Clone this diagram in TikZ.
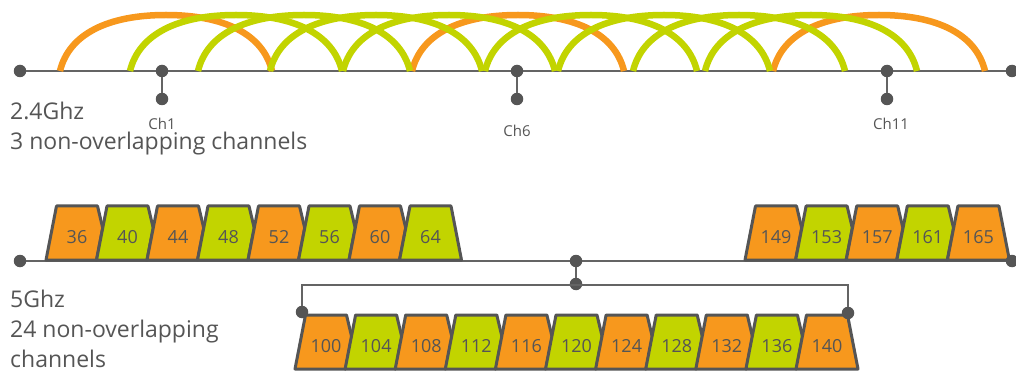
\documentclass[tikz,border=0pt]{standalone}
\usepackage{fontspec}
\setmainfont{Open Sans}
\definecolor{org}{RGB}{247,152,29}
\definecolor{grn}{RGB}{194,212,0}
\definecolor{axisc}{RGB}{100,100,100}
\definecolor{ink}{RGB}{85,85,85}
\newcommand\blk[5]{%
  \ifnum#5=0
    \filldraw[chblock,fill=#3] (#1,#2) -- ({#1+10.5},{#2-54}) -- ({#1+51.5},{#2-54}) -- ({#1+56.7},{#2-32}) -- ({#1+50.5},#2) -- cycle;
  \else
    \filldraw[chblock,fill=#3] (#1,#2) -- ({#1+10.5},{#2-54}) -- ({#1+51.5},{#2-54}) -- ({#1+62},#2) -- cycle;
  \fi
  \node[num] (c#4) at ({#1+31},{#2-23}) {#4};}
\newcommand\wave[2]{%
  \draw[waveline,#2] (#1,71) .. controls ({#1+9},34) and ({#1+48},15) .. ({#1+106},15) .. controls ({#1+164},15) and ({#1+203},34) .. ({#1+212},71);}
\begin{document}
\begin{tikzpicture}[x=1pt,y=-1pt,
  axisline/.style={draw=axisc,line width=2.2pt},
  thinline/.style={draw=axisc,line width=1.8pt},
  dot/.style={circle,fill=ink,inner sep=0pt,minimum size=12.5pt},
  waveline/.style={line width=6.5pt},
  chblock/.style={draw=ink,line width=3pt,line join=round},
  num/.style={font=\fontsize{18}{18}\selectfont,text=ink},
  chlab/.style={font=\fontsize{15}{15}\selectfont,text=ink,anchor=base},
  bigtxt/.style={font=\fontsize{23}{30}\selectfont,text=ink,anchor=base west,align=left,inner sep=0pt}]
\useasboundingbox (0,0) rectangle (1016,371);

% ---------- 2.4 GHz ----------
\node[dot] (a0) at (20,71) {};
\node[dot] (a1) at (1012,71) {};
\draw[axisline] (a0) -- (a1);
\foreach \s in {60,412,773} {\wave{\s}{org}}
\foreach \s in {130,198,270,343,485,558,633,705} {\wave{\s}{grn}}

\node[dot] (t1) at (162,71) {};
\node[dot] (b1) at (162,99) {};
\node[dot] (t6) at (517,71) {};
\node[dot] (b6) at (517,99) {};
\node[dot] (t11) at (887,71) {};
\node[dot] (b11) at (887,99) {};
\draw[axisline] (t1) -- (b1);
\draw[axisline] (t6) -- (b6);
\draw[axisline] (t11) -- (b11);
\node[chlab] (l1) at (162,130) {Ch1};
\node[chlab] (l6) at (517,137) {Ch6};
\node[chlab] (l11) at (891,130) {Ch11};

\node[bigtxt] (t24) at (10,150) {2.4Ghz\\3 non-overlapping channels};

% ---------- 5 GHz ----------
\coordinate (f0) at (20,261);
\coordinate (f1) at (1012,261);
\draw[axisline] (f0) -- (f1);

\blk{46}{260}{org}{36}{0}
\blk{96.5}{260}{grn}{40}{0}
\blk{147}{260}{org}{44}{0}
\blk{197.5}{260}{grn}{48}{0}
\blk{248}{260}{org}{52}{0}
\blk{298.5}{260}{grn}{56}{0}
\blk{349}{260}{org}{60}{0}
\blk{399.5}{260}{grn}{64}{1}

\blk{745}{260}{org}{149}{0}
\blk{795.6}{260}{grn}{153}{0}
\blk{846.2}{260}{org}{157}{0}
\blk{896.8}{260}{grn}{161}{0}
\blk{947.4}{260}{org}{165}{1}

\blk{295}{369}{org}{100}{0}
\blk{345.1}{369}{grn}{104}{0}
\blk{395.2}{369}{org}{108}{0}
\blk{445.3}{369}{grn}{112}{0}
\blk{495.4}{369}{org}{116}{0}
\blk{545.5}{369}{grn}{120}{0}
\blk{595.6}{369}{org}{124}{0}
\blk{645.7}{369}{grn}{128}{0}
\blk{695.8}{369}{org}{132}{0}
\blk{745.9}{369}{grn}{136}{0}
\blk{796}{369}{org}{140}{1}

\node[dot] (d0) at (f0) {};
\node[dot] (d1) at (f1) {};
\node[dot] (j1) at (576,261) {};
\node[dot] (j2) at (576,284) {};
\node[dot] (bl) at (302,312) {};
\node[dot] (br) at (848,313) {};
\coordinate (cl) at (302,285);
\coordinate (cr) at (848,285);
\draw[thinline] (j1) -- (j2);
\draw[thinline] (bl) -- (cl) -- (cr) -- (br);

\node[bigtxt] (t5) at (10,367) {5Ghz\\24 non-overlapping\\channels};
\end{tikzpicture}
\end{document}
